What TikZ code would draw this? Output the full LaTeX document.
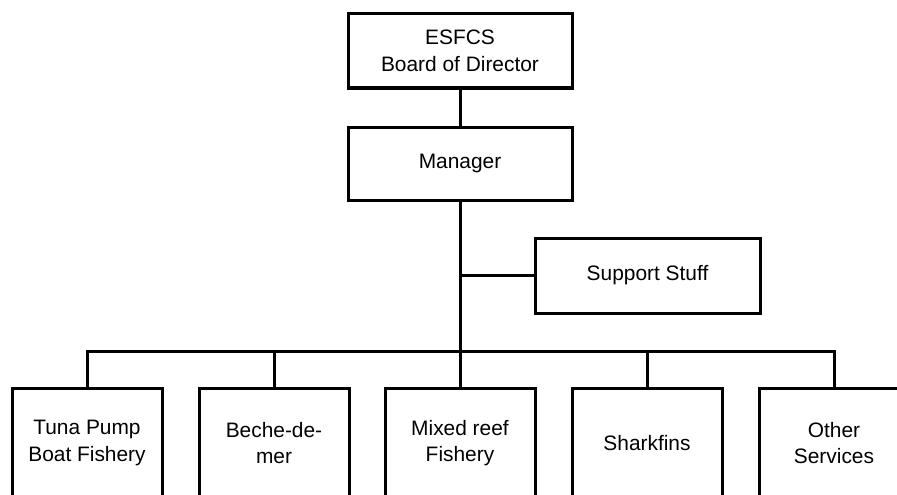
\documentclass[tikz,border=0pt]{standalone}
\usepackage{fontspec}
\setmainfont{Liberation Sans}
\begin{document}
\begin{tikzpicture}[x=1pt,y=-1pt,
  unit/.style={draw=black, line width=3pt, rectangle, align=center,
    inner sep=0pt, font=\fontsize{20.9}{26.5}\selectfont},
  wide/.style={unit, minimum width=224pt, minimum height=74pt},
  branch/.style={unit, minimum width=150pt, minimum height=110pt},
  link/.style={draw=black, line width=3pt}]
\useasboundingbox (0,0) rectangle (897,495);
\clip (0,0) rectangle (897,495);

% top of the chart
\node[wide] (board) at (460,51) {ESFCS\\Board of Director};
\node[wide, minimum height=73pt] (manager) at (460,163.5) {Manager};
\node[unit, minimum width=225pt, minimum height=75pt] (support) at (647.5,275.5) {Support Stuff};

% operating sections
\node[branch] (tuna)   at (87,443)  {Tuna Pump\\Boat Fishery};
\node[branch] (beche)  at (274,443) {Beche-de-\\mer};
\node[branch] (mixed)  at (460,443) {Mixed reef\\Fishery};
\node[branch] (shark)  at (647,443) {Sharkfins};
\node[branch] (other)  at (834,443) {Other\\Services};

\coordinate (bus) at (0,351);

% connectors
\draw[link] (board.south) -- (manager.north);
\draw[link] (manager.south) -- (mixed.north);
\draw[link] (manager.south |- support.west) -- (support.west);
\draw[link] (tuna.north) |- (other.north |- bus) -- (other.north);
\draw[link] (beche.north) -- (beche.north |- bus);
\draw[link] (shark.north) -- (shark.north |- bus);
\end{tikzpicture}
\end{document}
